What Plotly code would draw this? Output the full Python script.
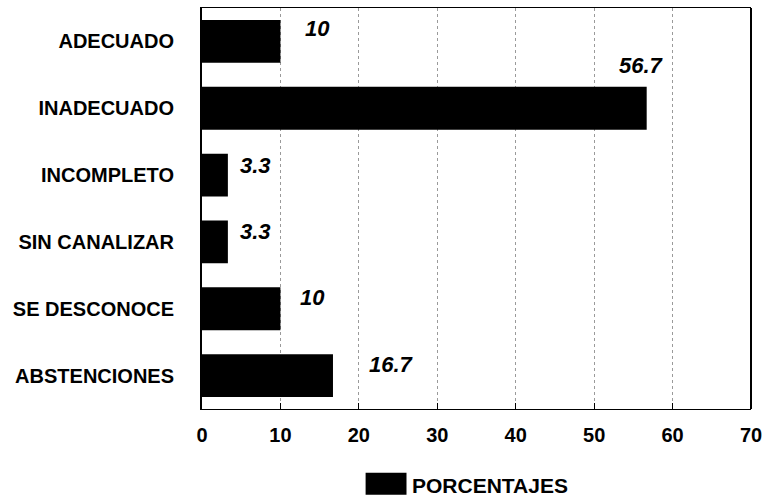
import plotly.graph_objects as go

categories = ["ADECUADO", "INADECUADO", "INCOMPLETO", "SIN CANALIZAR", "SE DESCONOCE", "ABSTENCIONES"]
values = [10, 56.7, 3.3, 3.3, 10, 16.7]
value_labels = ["10", "56.7", "3.3", "3.3", "10", "16.7"]
x_ticks = [0, 10, 20, 30, 40, 50, 60, 70]
series_name = "PORCENTAJES"

# label placement offsets (pixels), styling only
label_xshift = [23, -30, 10, 10, 18, 34]
label_yshift = [13, 43, 10, 10, 11, 11]
label_xanchor = ["left", "left", "left", "left", "left", "left"]

FONT = "Liberation Sans, Arial, Helvetica, sans-serif"

fig = go.Figure()
fig.add_trace(go.Bar(
    y=categories, x=values, orientation="h",
    marker=dict(color="black", line=dict(width=0)),
    name=series_name, showlegend=False, hoverinfo="skip",
))

for i, (c, v, t) in enumerate(zip(categories, values, value_labels)):
    fig.add_annotation(x=v, y=c, text=t, showarrow=False, xanchor=label_xanchor[i],
                       yanchor="middle", xshift=label_xshift[i], yshift=label_yshift[i],
                       font=dict(family=FONT, size=22, color="black", weight="bold", style="italic"))

# legend drawn manually (wide black swatch)
fig.add_shape(type="rect", xref="paper", yref="paper", x0=0.298, x1=0.3725, y0=-0.214, y1=-0.159,
              fillcolor="black", line=dict(width=0))
fig.add_annotation(xref="paper", yref="paper", x=0.378, y=-0.19, text=series_name, showarrow=False,
                   xanchor="left", yanchor="middle",
                   font=dict(family=FONT, size=21, color="black", weight="bold"))

fig.update_layout(
    width=769, height=497,
    margin=dict(l=202, r=14, t=7, b=88),
    plot_bgcolor="white", paper_bgcolor="white",
    bargap=0.36,
    font=dict(family=FONT, color="black"),
)
fig.update_xaxes(
    range=[0, 70], tickvals=x_ticks, ticktext=[str(v) for v in x_ticks],
    tickfont=dict(family=FONT, size=20, weight="bold", color="black"),
    showgrid=True, gridcolor="#9a9a9a", griddash="dot", gridwidth=1,
    showline=True, linecolor="black", linewidth=1, mirror=True,
    ticks="inside", ticklen=6, tickcolor="black", zeroline=False,
    ticklabelstandoff=8,
)
fig.update_yaxes(
    categoryorder="array", categoryarray=categories[::-1],
    tickfont=dict(family=FONT, size=20, weight="bold", color="black"),
    showline=True, linecolor="black", linewidth=2, mirror=False,
    ticks="", ticklabelstandoff=22, showgrid=False,
)
# right border
fig.add_shape(type="line", xref="paper", yref="paper", x0=1, x1=1, y0=0, y1=1,
              line=dict(color="black", width=2))

fig.write_html("out.html", config={"displayModeBar": False},
               post_script="document.body.style.margin='0';document.body.style.padding='0';")
